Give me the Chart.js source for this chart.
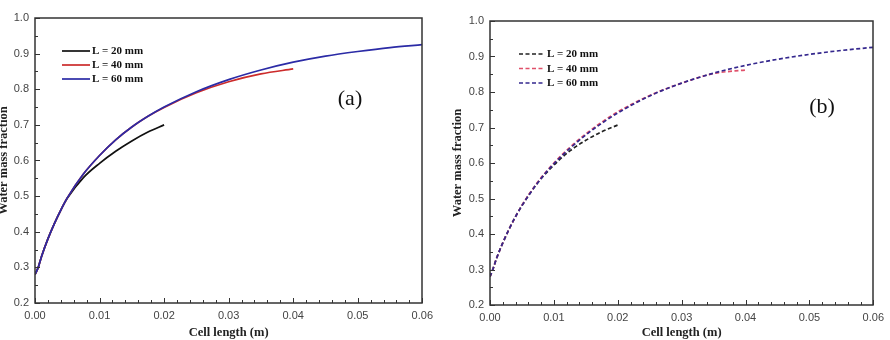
<!DOCTYPE html>
<html>
<head>
<meta charset="utf-8">
<script src="https://cdn.jsdelivr.net/npm/chart.js@4/dist/chart.umd.min.js"></script>
<style>
  body { margin: 0; background: #fff; }
  #wrap { position: relative; width: 890px; height: 340px; overflow: hidden; background: #fff; }
  #wrap canvas { position: absolute; top: 0; }
</style>
</head>
<body>
<div id="wrap">
  <canvas id="chartA" width="445" height="340" style="left:-6px"></canvas>
  <canvas id="chartB" width="445" height="340" style="left:445px"></canvas>
</div>
<script>
// cell length positions (m), shared by all curves
const cellLength = [0, 0.0005, 0.001, 0.002, 0.003, 0.004, 0.005, 0.0075, 0.01, 0.0125, 0.015, 0.0175,
                    0.02, 0.025, 0.03, 0.035, 0.04, 0.045, 0.05, 0.055, 0.06];

const seriesLabels = ['L = 20 mm', 'L = 40 mm', 'L = 60 mm'];

// panel (a)
const l20a = [0.28, 0.30, 0.33, 0.38, 0.423, 0.461, 0.494, 0.552, 0.592, 0.626, 0.655, 0.680, 0.700];
const l40a = [0.28, 0.30, 0.33, 0.38, 0.423, 0.461, 0.495, 0.562, 0.614, 0.658, 0.694, 0.724, 0.749,
              0.790, 0.821, 0.843, 0.857];
const l60a = [0.28, 0.30, 0.33, 0.38, 0.423, 0.461, 0.495, 0.562, 0.614, 0.658, 0.694, 0.724, 0.750,
              0.793, 0.827, 0.854, 0.876, 0.893, 0.906, 0.917, 0.925];

// panel (b)
const l20b = [0.28, 0.303, 0.33, 0.375, 0.414, 0.449, 0.480, 0.545, 0.594, 0.634, 0.664, 0.688, 0.707];
const l40b = [0.28, 0.303, 0.33, 0.375, 0.414, 0.449, 0.481, 0.547, 0.600, 0.644, 0.682, 0.715, 0.744,
              0.790, 0.825, 0.852, 0.862];
const l60b = [0.28, 0.303, 0.33, 0.375, 0.414, 0.449, 0.480, 0.545, 0.598, 0.641, 0.679, 0.712, 0.741,
              0.789, 0.825, 0.853, 0.875, 0.892, 0.906, 0.917, 0.926];

const xTicks = [0, 0.01, 0.02, 0.03, 0.04, 0.05, 0.06];
const yTicks = [0.2, 0.3, 0.4, 0.5, 0.6, 0.7, 0.8, 0.9, 1.0];

function toPoints(ys) {
    return ys.map((y, i) => ({ x: cellLength[i], y: y }));
}

// frame + inward ticks
const frameTicks = {
    id: 'frameTicks',
    afterDraw(chart) {
        const ctx = chart.ctx;
        const a = chart.chartArea;
        const xs = chart.scales.x, ys = chart.scales.y;
        ctx.save();
        ctx.strokeStyle = '#333';
        ctx.lineWidth = 1.5;
        ctx.strokeRect(Math.round(a.left), Math.round(a.top),
                       Math.round(a.right - a.left), Math.round(a.bottom - a.top));
        ctx.lineWidth = 1;
        ctx.beginPath();
        for (let i = 0; i <= 30; i++) {
            const v = i * 0.002;
            const px = Math.round(xs.getPixelForValue(v)) + 0.5;
            const len = (i % 5 === 0) ? 5 : 3;
            ctx.moveTo(px, a.bottom);
            ctx.lineTo(px, a.bottom - len);
        }
        for (let i = 0; i <= 16; i++) {
            const v = 0.2 + i * 0.05;
            const py = Math.round(ys.getPixelForValue(v)) + 0.5;
            const len = (i % 2 === 0) ? 5 : 3;
            ctx.moveTo(a.left, py);
            ctx.lineTo(a.left + len, py);
        }
        ctx.stroke();
        ctx.restore();
    }
};

// legend + panel tag drawn inside the plot
const innerLegend = {
    id: 'innerLegend',
    afterDraw(chart, args, opts) {
        const ctx = chart.ctx;
        ctx.save();
        ctx.font = 'bold 11px "Liberation Serif", "Times New Roman", serif';
        ctx.textBaseline = 'middle';
        chart.data.datasets.forEach((ds, i) => {
            const y = opts.y + i * opts.gap;
            ctx.strokeStyle = ds.borderColor;
            ctx.lineWidth = ds.borderWidth;
            ctx.setLineDash(ds.borderDash || []);
            ctx.beginPath();
            ctx.moveTo(opts.x, y);
            ctx.lineTo(opts.x + opts.len, y);
            ctx.stroke();
            ctx.fillStyle = '#111';
            ctx.fillText(ds.label, opts.x + opts.len + opts.textGap, y + 0.5);
        });
        ctx.setLineDash([]);
        ctx.font = '22px "Liberation Serif", "Times New Roman", serif';
        ctx.textAlign = 'center';
        ctx.fillStyle = '#111';
        ctx.fillText(opts.tag, opts.tagX, opts.tagY);
        ctx.restore();
    }
};

function makeChart(id, sets, dashed, geo) {
    const colors = dashed ? ['#222', '#e0506a', '#35288e'] : ['#111', '#cc2b2b', '#2b2ba6'];
    const datasets = sets.map((ys, i) => ({
        label: seriesLabels[i],
        data: toPoints(ys),
        borderColor: colors[i],
        borderWidth: 1.7,
        borderDash: dashed ? [4, 2.5] : [],
        pointRadius: 0,
        cubicInterpolationMode: 'monotone',
        fill: false,
        order: sets.length - i   // longest curve on top
    }));
    const tickFont = { family: '"Liberation Sans", Arial, sans-serif', size: 11 };
    const titleFont = { family: '"Liberation Serif", "Times New Roman", serif', size: 12.5, weight: 'bold' };
    return new Chart(document.getElementById(id), {
        type: 'line',
        data: { datasets: datasets },
        options: {
            responsive: false,
            animation: false,
            layout: { padding: { left: 0, right: geo.padRight, top: geo.padTop, bottom: 0 } },
            plugins: {
                legend: { display: false },
                tooltip: { enabled: false },
                innerLegend: geo.legend
            },
            scales: {
                x: {
                    type: 'linear',
                    min: 0, max: 0.06,
                    afterBuildTicks: s => { s.ticks = xTicks.map(v => ({ value: v })); },
                    afterFit: s => { s.height = geo.xHeight; },
                    grid: { display: false, drawTicks: false },
                    border: { display: false },
                    ticks: { padding: 6, color: '#444', font: tickFont, maxRotation: 0,
                             callback: v => v.toFixed(2) },
                    title: { display: true, text: 'Cell length (m)', color: '#222', font: titleFont,
                             padding: { top: 2, bottom: 0 } }
                },
                y: {
                    type: 'linear',
                    min: 0.2, max: 1.0,
                    afterBuildTicks: s => { s.ticks = yTicks.map(v => ({ value: v })); },
                    afterFit: s => { s.width = geo.yWidth; },
                    grid: { display: false, drawTicks: false },
                    border: { display: false },
                    ticks: { padding: 6, color: '#444', font: tickFont,
                             callback: v => v.toFixed(1) },
                    title: { display: true, text: 'Water mass fraction', color: '#222', font: titleFont,
                             padding: { top: geo.yTitlePad, bottom: 0 } }
                }
            }
        },
        plugins: [frameTicks, innerLegend]
    });
}

makeChart('chartA', [l20a, l40a, l60a], false, {
    padRight: 16, padTop: 18, xHeight: 37, yWidth: 41, yTitlePad: 2,
    legend: { x: 68, y: 51, gap: 14, len: 28, textGap: 2, tag: '(a)', tagX: 356, tagY: 99 }
});

makeChart('chartB', [l20b, l40b, l60b], true, {
    padRight: 15, padTop: 21, xHeight: 35, yWidth: 45, yTitlePad: 5,
    legend: { x: 74, y: 54, gap: 14.5, len: 24, textGap: 4, tag: '(b)', tagX: 377, tagY: 107 }
});
</script>
</body>
</html>
